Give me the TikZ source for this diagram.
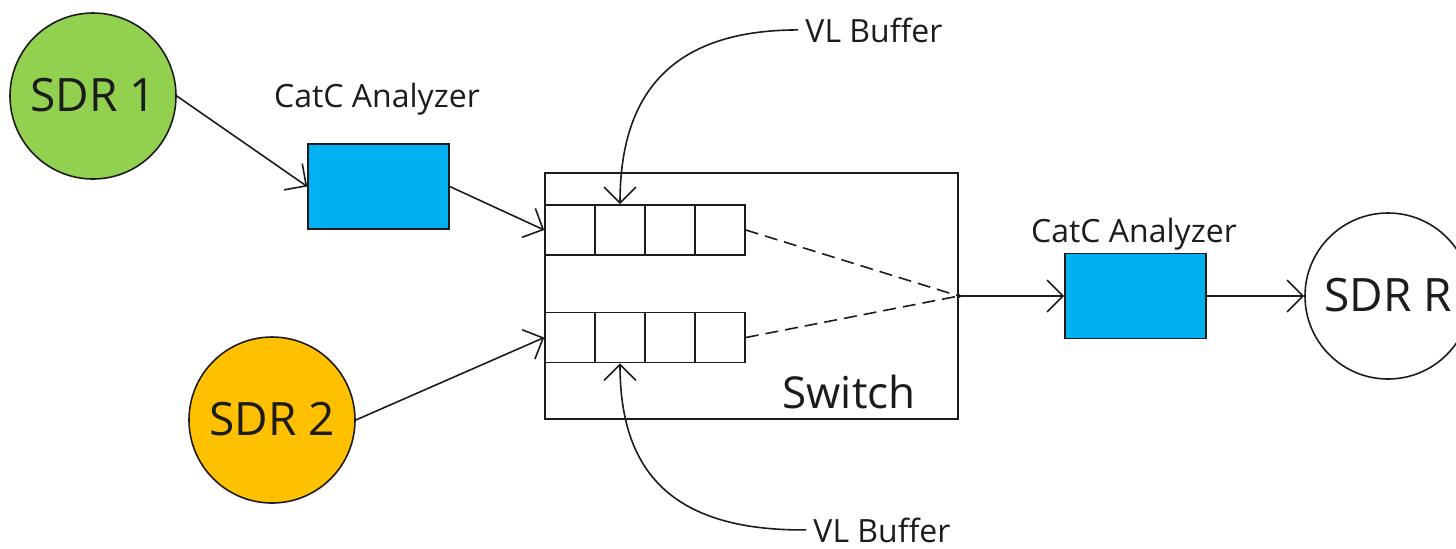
\documentclass[tikz,border=0pt]{standalone}
\usepackage{fontspec}
\setmainfont{Open Sans}
\usetikzlibrary{arrows.meta}
\definecolor{sdrgreen}{RGB}{146,208,80}
\definecolor{sdrorange}{RGB}{255,192,0}
\definecolor{anablue}{RGB}{0,176,240}
\definecolor{ink}{RGB}{28,28,28}

\begin{document}
\begin{tikzpicture}[x=0.5pt,y=-0.5pt,line width=0.8pt]
\tikzset{
  sdr/.style={circle,draw=ink,minimum size=83pt,inner sep=0pt,text=ink,
    font=\fontsize{23}{27}\selectfont},
  analyzer/.style={rectangle,draw=ink,fill=anablue,minimum width=70.5pt,
    minimum height=42.5pt,inner sep=0pt},
  switchbox/.style={rectangle,draw=ink,minimum width=206.5pt,
    minimum height=123pt,inner sep=0pt},
  cell/.style={rectangle,draw=ink,minimum size=25pt,inner sep=0pt},
  caption/.style={text=ink,font=\fontsize{16}{19}\selectfont},
  flow/.style={draw=ink,-{Straight Barb[length=8pt,width=16pt]}},
  link/.style={draw=ink,dash pattern=on 6.5pt off 3.5pt}
}
\clip (0,0) rectangle (1456,548);
\useasboundingbox (0,0) rectangle (1456,548);

% switch and its two VL buffers
\node[switchbox] (sw) at (751.5,296) {};
\node[caption,anchor=base,font=\fontsize{22}{26}\selectfont] (swlabel) at (849,408) {Switch};
\foreach \i/\x in {a/570,b/620,c/670,d/720}{
  \node[cell] (b1\i) at (\x,230) {};
  \node[cell] (b2\i) at (\x,337.5) {};
}
\coordinate (mux) at (sw.east);
\fill[ink] (mux) circle (1pt);

% end points
\node[sdr,fill=sdrgreen] (sdr1) at (93,96) {\raisebox{1.5pt}{SDR 1}};
\node[sdr,fill=sdrorange] (sdr2) at (272,420) {\raisebox{1.5pt}{SDR 2}};
\node[sdr,fill=white] (sdrR) at (1388,296) {\raisebox{1.5pt}{SDR R}};

% analyzers
\node[analyzer] (ana1) at (378.5,186.5) {};
\node[caption,anchor=base] (ana1label) at (377,107) {CatC Analyzer};
\node[analyzer] (ana2) at (1135.5,296) {};
\node[caption,anchor=base] (ana2label) at (1134,242) {CatC Analyzer};

% buffer labels
\node[caption,anchor=base west] (vl1) at (798,42) {VL Buffer};
\node[caption,anchor=base west] (vl2) at (806,542) {VL Buffer};

% data paths
\draw[flow] (sdr1.east) -- (ana1.west);
\draw[flow] (ana1.east) -- (b1a.west);
\draw[flow] (sdr2.east) -- (b2a.west);
\draw[link] (b1d.east) -- (mux);
\draw[link] (b2d.east) -- (mux);
\draw[flow] (mux) -- (ana2.west);
\draw[flow] (ana2.east) -- (sdrR.west);

% label pointers
\draw[flow] (vl1.west) .. controls (670,30) and (620,95) .. (b1b.north);
\draw[flow] (vl2.west) .. controls (670,531) and (620,470) .. (b2b.south);
\end{tikzpicture}
\end{document}
